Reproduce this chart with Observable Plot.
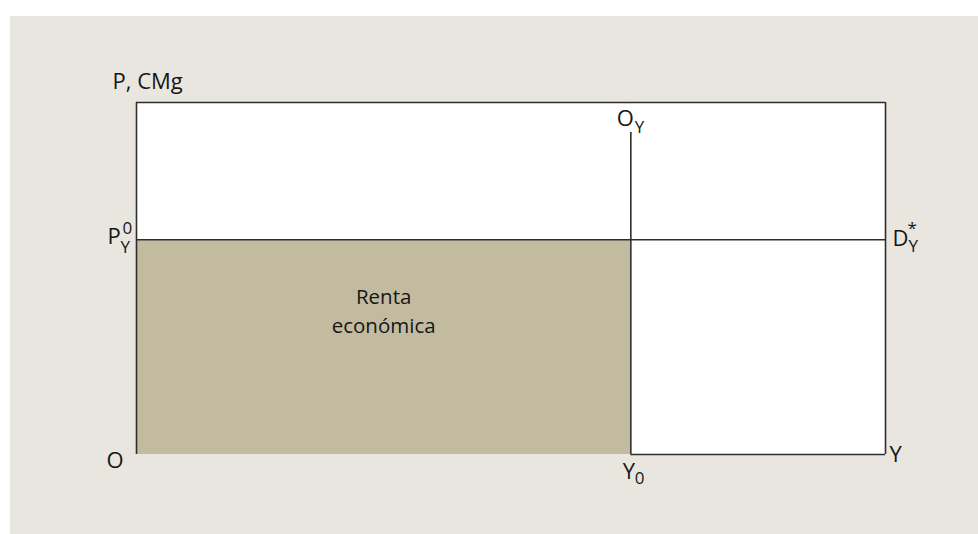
<!DOCTYPE html>
<html><head><meta charset="utf-8">
<script src="https://cdn.jsdelivr.net/npm/d3@7"></script>
<script src="https://cdn.jsdelivr.net/npm/@observablehq/plot@0.6"></script>
<style>
html,body{margin:0;padding:0;background:#fff;width:978px;height:534px;overflow:hidden}
#panel{position:absolute;left:10px;top:16px;width:968px;height:518px;background:#e9e6df}
</style></head><body><div id="panel"></div>
<script>
// Data (chart units 0..100)
const quantityDomain = [0, 100];
const priceDomain = [0, 100];
const equilibriumQuantity = 66;   // Y0
const equilibriumPrice = 61;      // P_Y^0
const supplyTop = 91.5;           // top of O_Y
const rentLabel = "Renta\neconómica";
const rentLabelX = 33;
const rentLabelY = 41.2;

const labelText = ["P, CMg", "P", "O", "D", "O", "Y", "Y"];
const labelSub  = ["",       "Y", "Y", "Y", "",  "0", ""];
const labelSup  = ["",       "0", "",  "*", "",  "",  ""];
const labelX    = [0, 0, 66, 100, 0, 66, 100];
const labelY    = [100, 61, 91.5, 61, 0, 0, 0];

// Styling offsets (pixels) for each label: main, sub, sup
const offsets = [
  {m:[-24,-20.5]},
  {m:[-29,-2.5], s:[-16,7.5], p:[-14,-11.5]},
  {m:[-14,-13], s:[4,-4.5]},
  {m:[7,-0.5], s:[23,7], p:[22,-11.5]},
  {m:[-30,6]},
  {m:[-8,17.5], s:[4,24.5]},
  {m:[4,0]}
];

const ink = "#2e2e2e";
const sw = 1.6;
const font = "'Open Sans', sans-serif";
const txt = "#161616";

const marks = [
  Plot.rect([0], {x1: 0, x2: equilibriumQuantity, y1: 0, y2: equilibriumPrice, fill: "#c2bba0"}),
  Plot.rect([0], {x1: equilibriumQuantity, x2: 100, y1: 0, y2: 100, fill: "#fff"}),
  Plot.rect([0], {x1: 0, x2: equilibriumQuantity, y1: equilibriumPrice, y2: 100, fill: "#fff"}),
  // frame
  Plot.ruleX([quantityDomain[0]], {y1: 0, y2: 100, stroke: ink, strokeWidth: sw}),
  Plot.ruleX([quantityDomain[1]], {y1: 0, y2: 100, stroke: ink, strokeWidth: sw}),
  Plot.ruleY([priceDomain[1]], {x1: 0, x2: 100, stroke: ink, strokeWidth: sw}),
  Plot.ruleY([priceDomain[0]], {x1: equilibriumQuantity, x2: 100, stroke: ink, strokeWidth: sw}),
  // demand (horizontal) and supply (vertical)
  Plot.ruleY([equilibriumPrice], {x1: 0, x2: 100, stroke: ink, strokeWidth: sw}),
  Plot.ruleX([equilibriumQuantity], {y1: 0, y2: supplyTop, stroke: ink, strokeWidth: sw}),
  Plot.text([rentLabel], {x: rentLabelX, y: rentLabelY, text: d => d, fontSize: 20.5, lineHeight: 1.42, fill: txt, fontFamily: font})
];

labelText.forEach((t, i) => {
  const o = offsets[i];
  marks.push(Plot.text([t], {x: labelX[i], y: labelY[i], text: d => d, textAnchor: "start", dx: o.m[0], dy: o.m[1], fontSize: 22, fill: txt, fontFamily: font}));
  if (labelSub[i]) marks.push(Plot.text([labelSub[i]], {x: labelX[i], y: labelY[i], text: d => d, textAnchor: "start", dx: o.s[0], dy: o.s[1], fontSize: 17, fill: txt, fontFamily: font}));
  if (labelSup[i]) marks.push(Plot.text([labelSup[i]], {x: labelX[i], y: labelY[i], text: d => d, textAnchor: "start", dx: o.p[0], dy: o.p[1], fontSize: 17, fill: txt, fontFamily: font}));
});

const chart = Plot.plot({
  width: 968,
  height: 518,
  marginLeft: 126,
  marginRight: 93,
  marginTop: 86,
  marginBottom: 80,
  x: {domain: quantityDomain, axis: null},
  y: {domain: priceDomain, axis: null},
  style: {background: "transparent", fontFamily: font},
  marks
});
document.getElementById("panel").appendChild(chart);
</script></body></html>
